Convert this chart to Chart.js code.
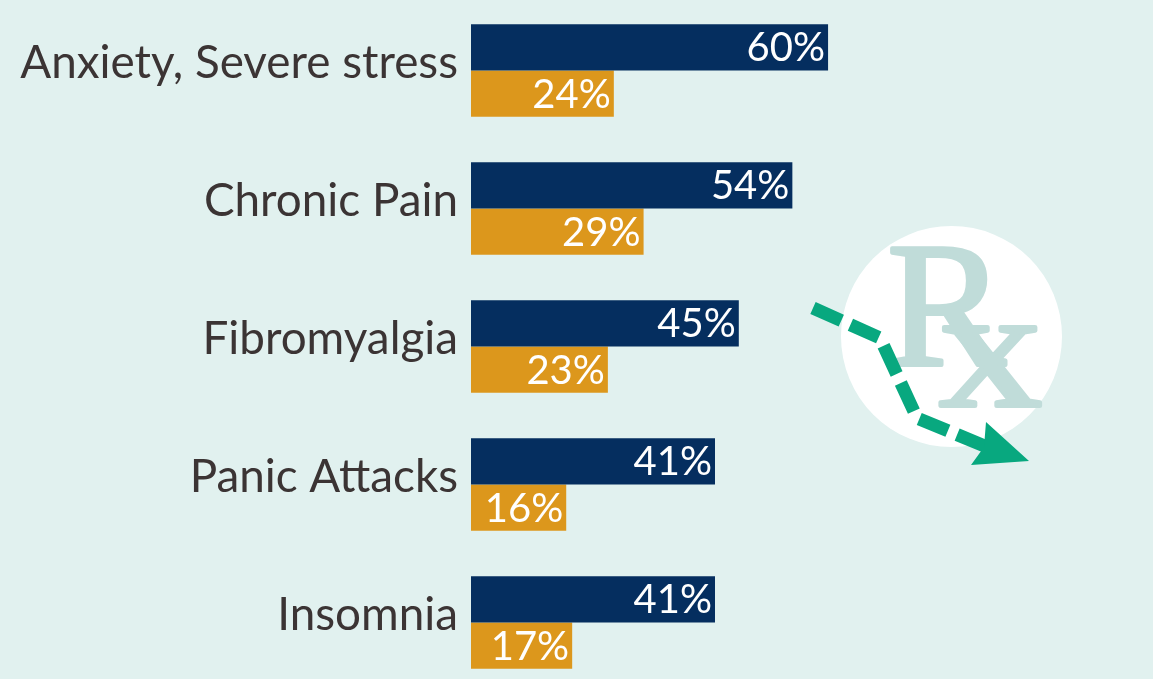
<!DOCTYPE html>
<html>
<head>
<meta charset="utf-8">
<style>
  html, body { margin: 0; padding: 0; background: #e1f1ef; overflow: hidden; }
  #wrap { position: relative; width: 1153px; height: 679px; overflow: hidden; }
  canvas { display: block; }
</style>
<script src="https://cdn.jsdelivr.net/npm/chart.js@4"></script>
</head>
<body>
<div id="wrap"><canvas id="chart" width="1153" height="692"></canvas></div>
<script>
const categories = ["Anxiety, Severe stress", "Chronic Pain", "Fibromyalgia", "Panic Attacks", "Insomnia"];
const navyValues = [60, 54, 45, 41, 41];
const goldValues = [24, 29, 23, 16, 17];
const axisMin = 0;
const axisMax = 114.6;

// draws value labels at the inside end of each bar
const valueLabels = {
  id: "valueLabels",
  afterDatasetsDraw(chart) {
    const ctx = chart.ctx;
    ctx.save();
    ctx.font = "40px Lato";
    ctx.fillStyle = "#ffffff";
    ctx.textAlign = "right";
    ctx.textBaseline = "middle";
    chart.data.datasets.forEach((ds, i) => {
      chart.getDatasetMeta(i).data.forEach((bar, j) => {
        ctx.fillText(ds.data[j] + "%", bar.x - 3, bar.y + 1);
      });
    });
    ctx.restore();
  }
};

// Rx badge with the dashed arrow, decoration on the right
const rxBadge = {
  id: "rxBadge",
  afterDraw(chart) {
    const ctx = chart.ctx;
    ctx.save();
    ctx.fillStyle = "#ffffff";
    ctx.beginPath();
    ctx.arc(951.5, 336.5, 110.5, 0, Math.PI * 2);
    ctx.fill();

    ctx.fillStyle = "#c0dcd9";
    ctx.strokeStyle = "#c0dcd9";
    ctx.lineWidth = 4;
    ctx.lineJoin = "round";
    ctx.textAlign = "left";
    ctx.textBaseline = "alphabetic";
    ctx.font = "178px 'Liberation Serif'";
    ctx.fillText("R", 887, 365);
    ctx.strokeText("R", 887, 365);
    ctx.save();
    ctx.translate(939, 406);
    ctx.scale(1.2, 1);
    ctx.font = "172px 'Liberation Serif'";
    ctx.fillText("x", 0, 0);
    ctx.strokeText("x", 0, 0);
    ctx.restore();

    ctx.strokeStyle = "#08a87f";
    ctx.lineWidth = 13;
    ctx.setLineDash([31, 10]);
    ctx.beginPath();
    ctx.moveTo(813, 308);
    ctx.lineTo(880, 338);
    ctx.lineTo(917, 418);
    ctx.lineTo(987, 447);
    ctx.stroke();
    ctx.setLineDash([]);

    ctx.fillStyle = "#08a87f";
    ctx.beginPath();
    ctx.moveTo(986, 422);
    ctx.lineTo(1029, 461);
    ctx.lineTo(971, 465);
    ctx.lineTo(984, 447);
    ctx.closePath();
    ctx.fill();
    ctx.restore();
  }
};

new Chart(document.getElementById("chart"), {
  type: "bar",
  data: {
    labels: categories,
    datasets: [
      { data: navyValues, backgroundColor: "#052e5f", categoryPercentage: 0.67, barPercentage: 1 },
      { data: goldValues, backgroundColor: "#dc971c", categoryPercentage: 0.67, barPercentage: 1 }
    ]
  },
  options: {
    indexAxis: "y",
    responsive: false,
    animation: false,
    layout: { padding: { top: 1.5, bottom: 0.5, left: 0, right: 0 } },
    plugins: { legend: { display: false }, tooltip: { enabled: false } },
    scales: {
      x: { display: false, min: axisMin, max: axisMax, afterFit(a) { a.height = 0; } },
      y: {
        grid: { display: false },
        border: { display: false },
        ticks: {
          color: "#3b3434",
          // blank second line lifts each label above the bar group centre, as in the picture
          font: { family: "Lato", size: 45.8, lineHeight: 0.3 },
          padding: 5,
          callback(v) { return [this.getLabelForValue(v), ""]; }
        },
        afterFit(a) {
          a.width = 471;
          // no extra inset for the tick label height, bars use the full canvas
          a.paddingTop = 0;
          a.paddingBottom = 0;
        }
      }
    }
  },
  plugins: [valueLabels, rxBadge]
});
</script>
</body>
</html>
